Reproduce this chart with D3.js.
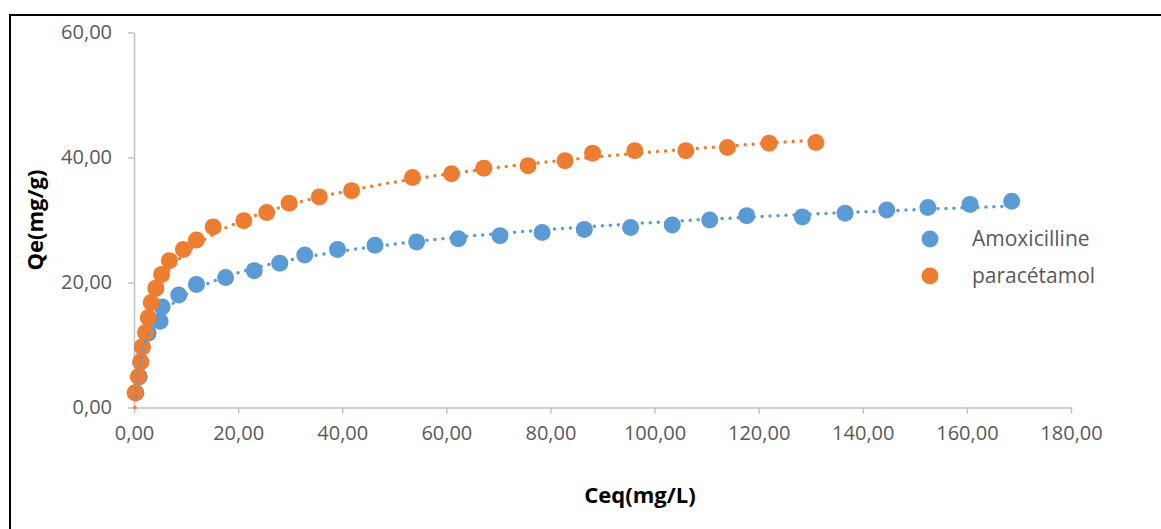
<!DOCTYPE html>
<html>
<head>
    <title>Qe vs Ceq</title>
    <script src="https://d3js.org/d3.v7.min.js"></script>
    <style>
        body { margin: 0; background: #fff; }
    </style>
</head>
<body>
    <script>
        // data
        const amoxCeq = [0.38, 1.02, 1.29, 1.6, 2.7, 5.0, 5.4, 8.6, 12.0, 17.6, 23.1, 28.0, 32.8, 39.1, 46.3, 54.3, 62.3, 70.3, 78.4, 86.5, 95.4, 103.4, 110.6, 117.7, 128.4, 136.6, 144.6, 152.5, 160.6, 168.6];
        const amoxQe  = [2.37, 4.93, 7.33, 9.7, 11.9, 13.8, 16.1, 18.0, 19.7, 20.8, 21.9, 23.1, 24.4, 25.3, 25.95, 26.5, 27.0, 27.5, 28.0, 28.5, 28.8, 29.2, 30.0, 30.7, 30.5, 31.1, 31.6, 32.0, 32.5, 33.0];

        const paraCeq = [0.19, 0.83, 1.29, 1.6, 2.2, 2.75, 3.3, 4.2, 5.3, 6.8, 9.5, 12.0, 15.2, 21.1, 25.5, 29.8, 35.6, 41.8, 53.5, 61.0, 67.2, 75.7, 82.8, 88.1, 96.2, 106.0, 114.0, 122.0, 131.0];
        const paraQe  = [2.37, 4.93, 7.33, 9.7, 12.0, 14.4, 16.8, 19.1, 21.3, 23.5, 25.3, 26.8, 28.9, 29.9, 31.2, 32.7, 33.7, 34.7, 36.8, 37.4, 38.3, 38.7, 39.5, 40.7, 41.1, 41.1, 41.6, 42.3, 42.4];

        const seriesNames = ["Amoxicilline", "paracétamol"];
        const seriesColors = ["#5B9BD5", "#ED7D31"];
        const xTicks = [0, 20, 40, 60, 80, 100, 120, 140, 160, 180];
        const yTicks = [0, 20, 40, 60];

        const W = 1161, H = 529;
        const svg = d3.select("body").append("svg")
            .attr("width", W)
            .attr("height", H);

        // outer frame (only left and top are in view)
        svg.append("path")
            .attr("d", "M10,600 L10,15 L1200,15")
            .attr("fill", "none")
            .attr("stroke", "#000")
            .attr("stroke-width", 2);

        const x = d3.scaleLinear().domain([0, 180]).range([134, 1071]);
        const y = d3.scaleLinear().domain([0, 60]).range([407.5, 32.5]);

        const fr = d3.formatLocale({decimal: ",", thousands: " ", grouping: [3], currency: ["", ""]});
        const fmt = fr.format(".2f");

        // axes
        const gx = svg.append("g")
            .attr("transform", `translate(0,${y(0)})`)
            .call(d3.axisBottom(x).tickValues(xTicks).tickFormat(fmt).tickSize(6).tickSizeOuter(0).tickPadding(12));
        const gy = svg.append("g")
            .attr("transform", `translate(${x(0)},0)`)
            .call(d3.axisLeft(y).tickValues(yTicks).tickFormat(fmt).tickSize(6).tickSizeOuter(0).tickPadding(16));

        [gx, gy].forEach(g => {
            g.select(".domain").attr("stroke", "#c0c0c0").attr("stroke-width", 1.5);
            g.selectAll(".tick line").attr("stroke", "#c0c0c0").attr("stroke-width", 1.5);
            g.selectAll(".tick text")
                .attr("fill", "#595959")
                .style("font-family", "'Open Sans', sans-serif")
                .style("font-size", "20px");
        });

        // axis titles
        svg.append("text")
            .attr("x", 640)
            .attr("y", 503)
            .attr("text-anchor", "middle")
            .style("font-family", "'Open Sans', sans-serif")
            .style("font-weight", "bold")
            .style("font-size", "22px")
            .attr("fill", "#000")
            .text("Ceq(mg/L)");

        svg.append("text")
            .attr("transform", "translate(43,220) rotate(-90)")
            .attr("text-anchor", "middle")
            .style("font-family", "'Open Sans', sans-serif")
            .style("font-weight", "bold")
            .style("font-size", "22px")
            .attr("fill", "#000")
            .text("Qe(mg/g)");

        const series = [
            {name: seriesNames[0], color: seriesColors[0], xs: amoxCeq, ys: amoxQe},
            {name: seriesNames[1], color: seriesColors[1], xs: paraCeq, ys: paraQe}
        ];

        // markers
        series.forEach(s => {
            svg.append("g").selectAll("circle")
                .data(d3.zip(s.xs, s.ys))
                .enter().append("circle")
                .attr("cx", d => x(d[0]))
                .attr("cy", d => y(d[1]))
                .attr("r", 8.5)
                .attr("fill", s.color);
        });

        // logarithmic trendlines (least squares of y on ln x), dotted
        series.forEach(s => {
            const lx = s.xs.map(Math.log);
            const mx = d3.mean(lx), my = d3.mean(s.ys);
            let num = 0, den = 0;
            lx.forEach((v, i) => { num += (v - mx) * (s.ys[i] - my); den += (v - mx) * (v - mx); });
            const a = num / den, b = my - a * mx;
            const x0 = d3.min(s.xs), x1 = d3.max(s.xs);
            const pts = d3.range(0, 401).map(i => {
                const t = i / 400;
                const xv = Math.exp(Math.log(x0) + t * (Math.log(x1) - Math.log(x0)));
                return [xv, Math.max(0, a * Math.log(xv) + b)];
            });
            svg.append("path")
                .datum(pts)
                .attr("fill", "none")
                .attr("stroke", s.color)
                .attr("stroke-width", 3.5)
                .attr("stroke-linecap", "round")
                .attr("stroke-dasharray", "0,8")
                .attr("d", d3.line().x(d => x(d[0])).y(d => y(d[1])));
        });

        // legend
        const lg = svg.append("g");
        series.forEach((s, i) => {
            lg.append("circle")
                .attr("cx", 930)
                .attr("cy", 239 + i * 37)
                .attr("r", 8.5)
                .attr("fill", s.color);
            lg.append("text")
                .attr("x", 972)
                .attr("y", 239 + i * 37)
                .attr("dy", "0.35em")
                .attr("fill", "#595959")
                .style("font-family", "'Open Sans', sans-serif")
                .style("font-size", "21px")
                .text(s.name);
        });
    </script>
</body>
</html>
